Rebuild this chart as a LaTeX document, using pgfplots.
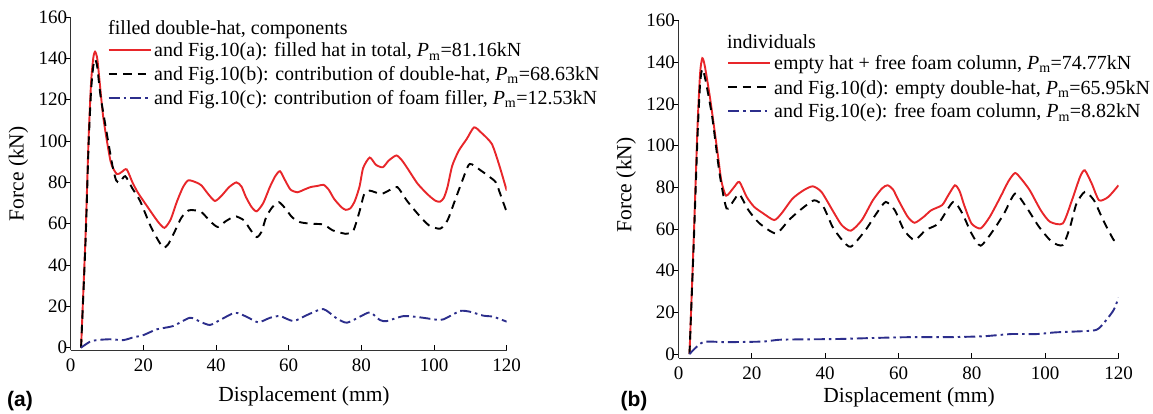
\documentclass[border=0pt]{standalone}
\usepackage{pgfplots}
\pgfplotsset{compat=1.18}
\usepackage{fontspec}
\setmainfont{Liberation Serif}
\newfontfamily\labfont{Liberation Sans}
\definecolor{myred}{RGB}{232,38,42}
\definecolor{myblue}{RGB}{44,46,140}

\pgfplotstableread{
x y
2.85 0
4.1 55
4.9 100
5.6 128
6.2 140
6.7 143.2
7.3 140
8.0 128
9 111
11 90
12.7 84
14 85
15.4 86.3
17 80
18.5 75
21.2 68
24 61
25.8 58
27.5 62
29.3 71
31 78
32.4 81
34.5 80
36 78.5
38 74
39.7 71
41.5 73.5
43.6 77.7
45.6 80
47 78
48.2 73
49.8 68
51.2 66
53 70
54.8 77.7
56.3 83
57.6 85.4
59 81
60.5 76.5
62.4 75.2
64 76.3
66 77.7
68 78.3
69.6 78.8
71 76.5
72.5 72
74.5 68
75.7 66.7
77 67.5
78.2 71
79.5 78
80.5 87
82.3 92
84 88.5
85.9 87.3
87.5 90.5
89.6 93
91 91
92.5 87.3
95.5 79.3
98.6 73.6
100.5 71
101.7 70.7
102.7 72.5
103.7 77.7
105 88
106.8 95.3
109 101
111 106.6
112.9 104.2
115.9 98.6
118 88
120 76
}\redA

\pgfplotstableread{
x y
2.85 0
4.1 52
4.9 97
5.6 124
6.2 136
6.7 139.5
7.3 136
8.2 122
10 103
11.5 88
12.5 81
13.5 80
15 83
17 77
19.1 71
22.2 58
25.3 48.7
26.8 50
28.3 55
30.5 63
32.4 66.4
34 66.5
36 65.6
38.5 61
40.5 58.4
42.5 61
44.6 63.2
45.6 63.5
47.7 61.6
49.5 57
51.2 53.5
52.5 56
53.8 63.2
55.5 68
57.3 70.4
59 67.5
60.9 63.2
63 60.8
66 60
69.6 59.6
72.1 56.8
75.7 55.1
77.5 56
78.2 58.4
79.5 66
80.8 74.4
82.3 76
85.4 74.4
87.5 76
89.9 77.7
92.5 71.2
95.5 64.8
98.6 59.2
101.7 57.6
103.7 61.6
105.5 70
107.8 80.9
109.8 88.9
112.9 85.7
115 83
117 80
118.5 73
120 65.6
}\blackA

\pgfplotstableread{
x y
2.8 0
5.3 2.9
7.2 3.7
10.8 4.1
14.5 3.7
17.2 5
20 6.1
23.7 8.9
28.2 10.5
32.8 14.5
35.6 12.6
38.3 11
41.1 13.4
45.2 16.9
48.4 15
51.6 12.3
54.9 14.5
57.6 15.3
61.3 12.9
65 15.8
69.5 18.7
73.2 14.2
76 12.1
79.6 15
82.4 17.1
85.1 13.4
87 12.9
91.6 15.3
96.1 14.7
101.6 13.4
103.5 14.5
107.2 17.8
109.9 17.4
113.6 15.5
116.3 15
120 12.6
}\blueA

\pgfplotstableread{
x y
3 0
4.2 58
5.2 110
5.9 135
6.5 142
7.2 138
8.7 121.7
10.7 96
11.7 83
13 76
15.1 80
16.6 82.6
18.6 75.4
20.6 70.7
23.1 67.5
26.1 64.3
28.1 67.5
31.1 74.6
34.1 78.6
36.6 80.5
39 77.8
42 69
44.5 61.9
47 59.2
50 64.3
53 73.8
55.5 79.5
57 81
58.5 79
60 73.8
62.5 65.9
64.4 63
66.9 65.9
68.9 69
71.9 71.5
73.5 76
75.4 81
76.7 78
77.9 71.5
79.9 62.7
82.4 60.3
84.9 65.9
87.8 75.4
90 83
91.8 86.9
93.5 84
95.8 78.6
98.8 69
101.3 63.5
104.8 62.7
107.3 73.8
109.5 85
110.8 88.2
112.7 81.8
114.7 73.8
117.2 75.4
120 81
}\redB

\pgfplotstableread{
x y
3 0
4.2 55
5.2 105
5.9 130
6.5 136.8
7.3 132
9.2 113.7
11.2 86.6
13.1 69.9
15.1 73.8
16.6 76.7
19.1 69
22.1 62.7
26.6 57.9
30.1 64.3
33.1 69
37 73.8
39.5 70.7
42 61.1
44.5 55
47 51.5
51 59.5
54 67.5
56.5 73
59 69
61.5 59.5
64.4 54.7
67.4 59.5
70.9 62.7
74.9 73
77.4 67.5
79.9 57.9
82.4 52
85.9 59.5
88.8 67.5
91.8 77
94.8 70.7
98.3 61.1
101.8 53.9
104.8 52.3
106.8 61.1
108.5 72
110.8 77.8
113.3 73.8
115.8 64.3
118.7 54.7
119.7 53.9
}\blackB

\pgfplotstableread{
x y
3 0
6.7 5.7
13.1 5.7
23.1 6
28.1 6.9
43 7.2
53 7.7
62.9 8.1
72.9 8.1
82.9 8.5
90.8 9.6
97.8 9.6
102.8 10.4
112.7 11.2
114.7 12.4
116.7 16.4
118.7 21.2
120 27
}\blueB

\tikzset{
  redleg/.style={color=myred, line width=1.9pt, solid},
  blackleg/.style={color=black, line width=1.9pt, dash pattern=on 8.5pt off 6pt},
  blueleg/.style={color=myblue, line width=1.9pt, dash pattern=on 11pt off 4pt on 2.5pt off 4pt},
  redline/.style={redleg, smooth, tension=0.4},
  blackline/.style={blackleg, smooth, tension=0.4},
  blueline/.style={blueleg, smooth, tension=0.4},
  legtext/.style={anchor=west, inner sep=0pt, text height=14pt, text depth=0pt,
    font=\fontsize{20}{24}\selectfont},
}

\pgfplotsset{
  panel/.style={
    scale only axis,
    clip mode=individual,
    axis x line*=bottom, axis y line*=left,
    xmin=0, xmax=120, ymax=160,
    xtick={0,20,...,120}, ytick={0,20,...,160},
    tick align=inside,
    major tick length=5pt,
    tick style={black, line width=0.8pt},
    y tick style={xshift=-5pt},
    axis line style={black!80, line width=0.8pt},
    tick label style={font=\fontsize{19}{22}\selectfont},
    xticklabel style={yshift=-5pt},
    label style={font=\fontsize{21.5}{25}\selectfont},
    /pgf/number format/assume math mode=true,
  },
}

\begin{document}
\begin{tikzpicture}
\path[use as bounding box] (0,0) rectangle (1153pt,414pt);

\begin{axis}[panel,
  at={(70.7pt,64pt)}, anchor=south west,
  width=436pt, height=333pt, ymin=-1.1,
  xlabel={Displacement (mm)}, ylabel={Force (kN)},
  xlabel style={at={(axis description cs:0.535,-0.138)}, anchor=center},
  ylabel style={at={(axis description cs:-0.12,0.529)}, anchor=center},
]
\addplot[redline] table {\redA};
\addplot[blackline] table {\blackA};
\addplot[blueline] table {\blueA};
% legend
\node[legtext] at (axis description cs:0.0856,0.967) {filled double-hat, components};
\draw[redleg] (axis description cs:0.0867,0.901) -- ++(42pt,0pt);
\node[legtext] at ([xshift=45.5pt]axis description cs:0.0867,0.901) {and Fig.10(a): filled hat in total, \textit{P}\textsubscript{m}=81.16kN};
\draw[blackleg] (axis description cs:0.0867,0.830) -- ++(42pt,0pt);
\node[legtext] at ([xshift=45.5pt]axis description cs:0.0867,0.830) {and Fig.10(b): contribution of double-hat, \textit{P}\textsubscript{m}=68.63kN};
\draw[blueleg] (axis description cs:0.0867,0.758) -- ++(42pt,0pt);
\node[legtext] at ([xshift=45.5pt]axis description cs:0.0867,0.758) {and Fig.10(c): contribution of foam filler, \textit{P}\textsubscript{m}=12.53kN};
\end{axis}
\node[font=\labfont\bfseries\fontsize{21}{25}\selectfont] at (20pt,13pt) {(a)};

\begin{axis}[panel,
  at={(678.5pt,56pt)}, anchor=south west,
  width=440pt, height=337.3pt, ymin=-1.9,
  xlabel={Displacement (mm)}, ylabel={Force (kN)},
  xlabel style={at={(axis description cs:0.524,-0.118)}, anchor=center},
  ylabel style={at={(axis description cs:-0.119,0.513)}, anchor=center},
]
\addplot[redline] table {\redB};
\addplot[blackline] table {\blackB};
\addplot[blueline] table {\blueB};
% legend
\node[legtext] at (axis description cs:0.11,0.9377) {individuals};
\draw[redleg] (axis description cs:0.1125,0.8755) -- ++(42pt,0pt);
\node[legtext] at ([xshift=46pt]axis description cs:0.1125,0.8755) {empty hat + free foam column, \textit{P}\textsubscript{m}=74.77kN};
\draw[blackleg] (axis description cs:0.1125,0.8026) -- ++(42pt,0pt);
\node[legtext] at ([xshift=46pt]axis description cs:0.1125,0.8026) {and Fig.10(d): empty double-hat, \textit{P}\textsubscript{m}=65.95kN};
\draw[blueleg] (axis description cs:0.1125,0.7323) -- ++(42pt,0pt);
\node[legtext] at ([xshift=46pt]axis description cs:0.1125,0.7323) {and Fig.10(e): free foam column, \textit{P}\textsubscript{m}=8.82kN};
\end{axis}
\node[font=\labfont\bfseries\fontsize{21}{25}\selectfont] at (634pt,13pt) {(b)};
\end{tikzpicture}
\end{document}
